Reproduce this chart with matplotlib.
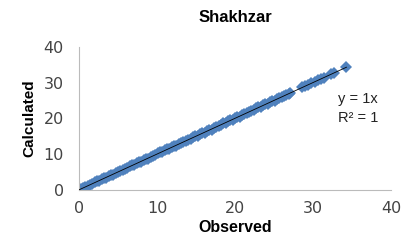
import numpy as np
import matplotlib
matplotlib.use("Agg")
import matplotlib.pyplot as plt

title = "Shakhzar"
x_label = "Observed"
y_label = "Calculated"
ticks = [0, 10, 20, 30, 40]

observed = [0.2, 0.5, 0.8, 1.1, 1.4, 1.7, 2.0, 2.3, 2.6, 2.9, 3.2, 3.5, 3.8, 4.1,
            4.4, 4.7, 5.0, 5.3, 5.6, 5.9, 6.2, 6.5, 6.8, 7.1, 7.4, 7.7, 8.0, 8.3,
            8.6, 8.9, 9.2, 9.5, 9.8, 10.1, 10.4, 10.7, 11.0, 11.3, 11.6, 11.9,
            12.2, 12.5, 12.8, 13.1, 13.4, 13.7, 14.0, 14.3, 14.6, 14.9, 15.2,
            15.5, 15.8, 16.1, 16.4, 16.7, 17.0, 17.3, 17.6, 17.9, 18.2, 18.5,
            18.8, 19.1, 19.4, 19.7, 20.0, 20.3, 20.6, 20.9, 21.2, 21.5, 21.8,
            22.1, 22.4, 22.7, 23.0, 23.3, 23.6, 23.9, 24.2, 24.5, 24.8, 25.1,
            25.4, 25.7, 26.0, 26.3, 26.6, 26.9, 27.1,
            28.6, 29.0, 29.4, 29.8, 30.3, 30.6, 31.0, 31.4, 32.3, 32.7, 34.3]
calculated = [0.3, 0.6, 0.7, 1.2, 1.5, 1.6, 2.1, 2.4, 2.5, 3.0, 3.3, 3.4, 3.9, 4.2,
              4.3, 4.8, 5.1, 5.2, 5.7, 6.0, 6.1, 6.6, 6.9, 7.0, 7.5, 7.8, 7.9, 8.4,
              8.7, 8.8, 9.3, 9.6, 9.7, 10.2, 10.5, 10.6, 11.1, 11.4, 11.5, 12.0,
              12.3, 12.4, 12.9, 13.2, 13.3, 13.8, 14.1, 14.2, 14.7, 15.0, 15.1,
              15.6, 15.9, 16.0, 16.5, 16.8, 16.9, 17.4, 17.7, 17.8, 18.3, 18.6,
              18.7, 19.2, 19.5, 19.6, 20.1, 20.4, 20.5, 21.0, 21.3, 21.4, 21.9,
              22.2, 22.3, 22.8, 23.1, 23.2, 23.7, 24.0, 24.1, 24.6, 24.9, 25.0,
              25.5, 25.8, 25.9, 26.4, 26.7, 26.8, 27.2,
              28.7, 29.1, 29.3, 29.9, 30.2, 30.7, 31.1, 31.3, 32.4, 32.6, 34.4]

fig = plt.figure(figsize=(4.03, 2.42), dpi=100)
ax = fig.add_axes([0.196, 0.215, 0.774, 0.591])

ax.plot(observed, calculated, 'D', color='#4F81BD', markersize=6.5,
        markeredgewidth=0, zorder=2)

fit = np.polyfit(observed, calculated, 1)
xs = np.array([0, max(observed)])
ax.plot(xs, np.poly1d(fit)(xs), '-', color='black', lw=0.6, zorder=3)

ax.set_xlim(0, 40)
ax.set_ylim(0, 40)
ax.set_xticks(ticks)
ax.set_yticks(ticks)
ax.tick_params(length=0, labelsize=11.5, colors='#444444')
ax.tick_params(axis='y', pad=11)
ax.tick_params(axis='x', pad=8)
for s in ['top', 'right']:
    ax.spines[s].set_visible(False)
for s in ['left', 'bottom']:
    ax.spines[s].set_color('#BBBBBB')
    ax.spines[s].set_linewidth(0.8)

ax.set_title(title, fontweight='bold', fontsize=12, family='Liberation Sans', pad=18)
ax.set_xlabel(x_label, fontweight='bold', fontsize=11.5, family='Liberation Sans', labelpad=3)
ax.set_ylabel(y_label, fontweight='bold', fontsize=11, family='Liberation Sans', labelpad=5)

ax.text(33.2, 24.3, "y = 1x", fontsize=10.5, family='Liberation Sans', color='#222222')
ax.text(33.2, 19.0, "R² = 1", fontsize=10.5, family='Liberation Sans', color='#222222')

fig.savefig("out.png", dpi=100)
